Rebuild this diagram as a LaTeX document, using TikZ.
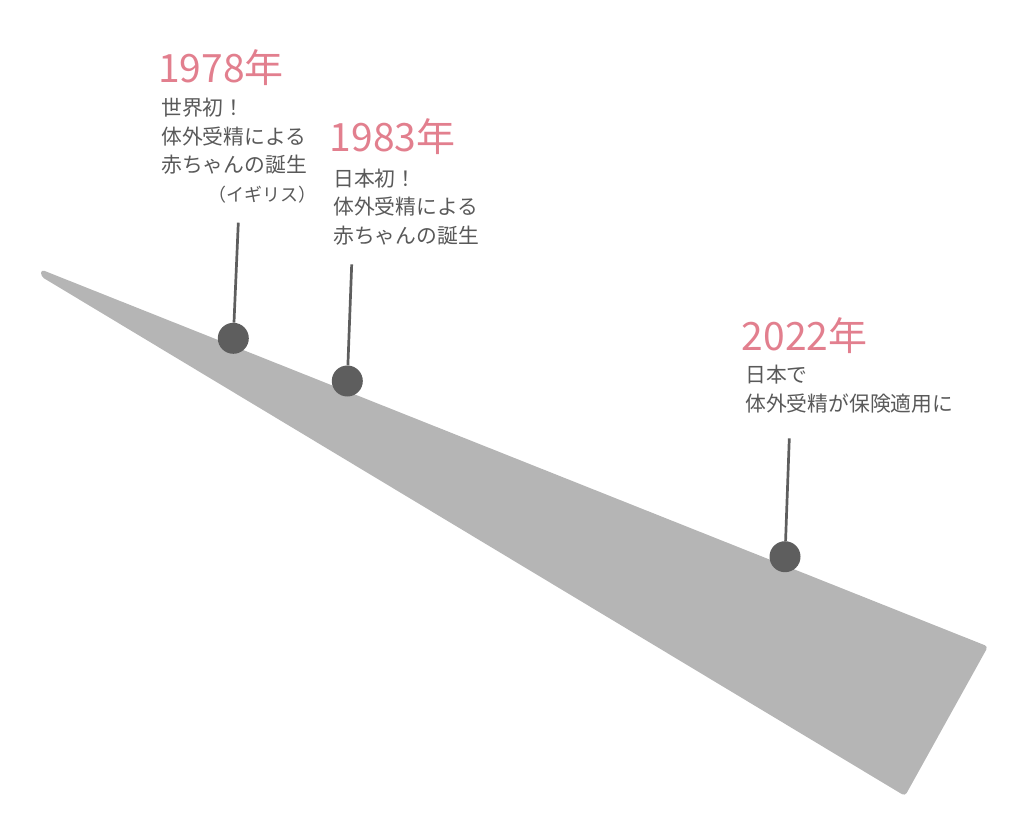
\documentclass[tikz,border=0pt]{standalone}
\usepackage{fontspec}
\setmainfont{Noto Sans CJK JP}
\usepackage{xcolor}
\usepackage{tikz}
\usetikzlibrary{calc}
\definecolor{yearpink}{HTML}{E27F8E}
\definecolor{notegray}{HTML}{595959}
\definecolor{bandgray}{HTML}{B5B5B5}
\definecolor{dotgray}{HTML}{5E5E5E}

\begin{document}
\begin{tikzpicture}[x=1pt,y=-1pt,
  year/.style={anchor=base west,inner sep=0,text=yearpink,font=\fontsize{39}{39}\selectfont},
  note/.style={anchor=base west,inner sep=0,align=left,text=notegray,font=\fontsize{20.8}{28.7}\selectfont},
  pin/.style={circle,fill=dotgray,minimum size=31pt,inner sep=0},
  stick/.style={draw=dotgray,line width=2.7pt}]
\useasboundingbox (0,0) rectangle (1024,832);
\fill [bandgray,rounded corners=3.5pt] (41,269.5) -- (988,646.5) -- (905,796) -- (41,276.5) -- cycle;
\node [pin] (p1978) at (233.3,338.3) {};
\node [pin] (p1983) at (347.3,381) {};
\node [pin] (p2022) at (785,556.7) {};
\coordinate (t1978) at (238.3,222.7);
\coordinate (t1983) at (351.7,264.3);
\coordinate (t2022) at (789.3,438.3);
\draw [stick] (t1978) -- (p1978);
\draw [stick] (t1983) -- (p1983);
\draw [stick] (t2022) -- (p2022);
% notes are placed by the baseline of their last line
\node [year] (y1978) at (158,82.7) {1978年};
\node [note] (n1978) at (161,201.6) {世界初！\\体外受精による\\赤ちゃんの誕生\\{\fontsize{18}{28.7}\selectfont\hspace*{47.5pt}（イギリス）}};
\node [year] (y1983) at (329.7,151.7) {1983年};
\node [note] (n1983) at (333,243.6) {日本初！\\体外受精による\\赤ちゃんの誕生};
\node [year] (y2022) at (741.5,350) {2022年};
\node [note] (n2022) at (745,411) {日本で\\体外受精が保険適用に};
\end{tikzpicture}
\end{document}
